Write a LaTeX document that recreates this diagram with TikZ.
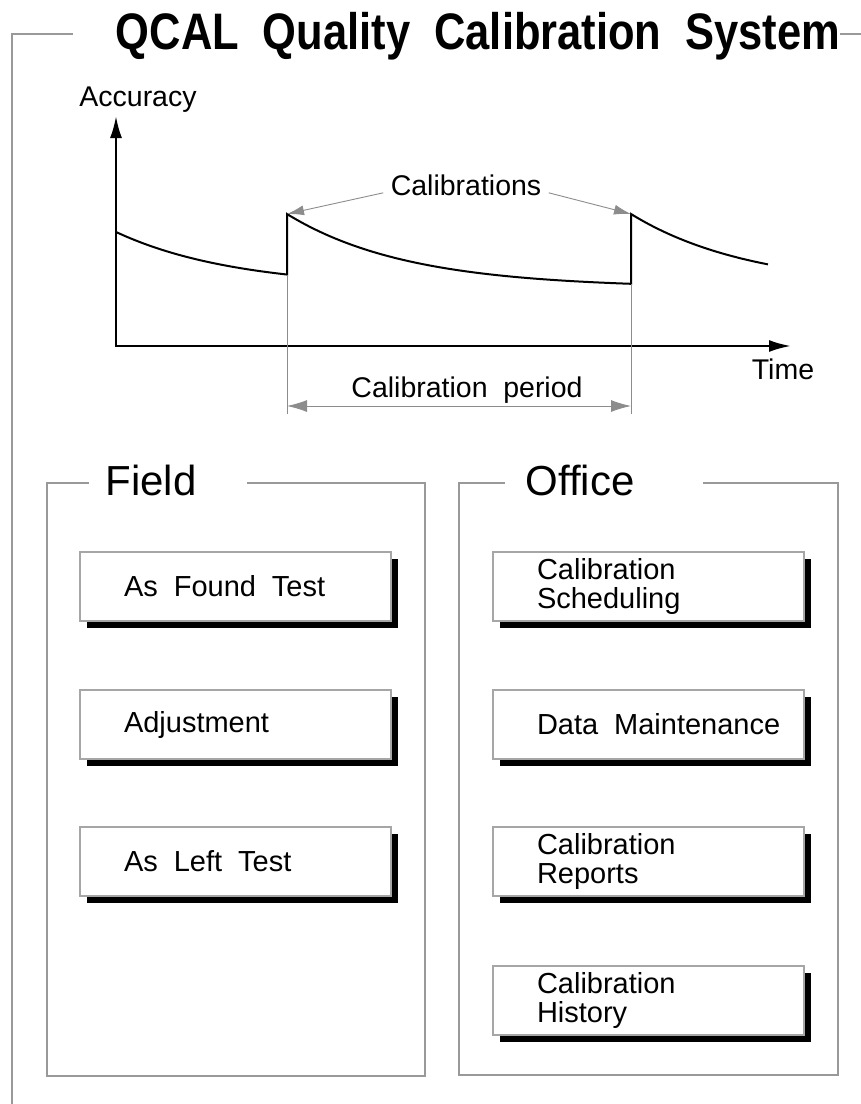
\documentclass[tikz,border=0pt]{standalone}
\usepackage{fontspec}
\setmainfont{Liberation Sans}
\usetikzlibrary{arrows.meta,shadows}
\newcommand{\wsp}{\hspace{0.55em}}
\tikzset{
  frameline/.style={draw=black!40, line width=1.3pt},
  axisline/.style={line width=2.4pt, {Latex[length=22pt,width=12pt]}-{Latex[length=22pt,width=12pt]}},
  decay/.style={line width=2pt},
  guide/.style={draw=black!45, line width=0.9pt},
  pointer/.style={draw=black!45, line width=0.9pt, -{Latex[length=17pt,width=10pt]}},
  dimline/.style={draw=black!45, line width=0.9pt, {Latex[length=20pt,width=12pt]}-{Latex[length=20pt,width=12pt]}},
  lbl/.style={font=\fontsize{28.5}{30}\selectfont},
  head/.style={font=\fontsize{42}{46}\selectfont},
  task/.style={draw=black!35, line width=1.2pt, fill=white, minimum width=311pt, minimum height=69pt,
    text width=223pt, inner xsep=44pt, align=left, font=\fontsize{29}{29.5}\selectfont,
    drop shadow={shadow xshift=7pt, shadow yshift=-7pt, fill=black, opacity=1}}
}
\begin{document}
\begin{tikzpicture}[x=1pt,y=-1pt]
\useasboundingbox (0,0) rectangle (861,1104);
% outer frame and title
\draw[frameline] (73,34) -- (12,34) -- (12,1104);
\draw[frameline] (840,34) -- (861,34);
\node[anchor=base] (title) at (478,49) {\scalebox{1}[1.18]{\fontsize{43.5}{46}\selectfont\bfseries QCAL\wsp Quality\wsp Calibration\wsp System}};

% accuracy graph
\draw[axisline] (116,116) -- (116,346) -- (791,346);
\node[lbl, anchor=base] (accuracy) at (138,106) {Accuracy};
\node[lbl, anchor=base] (time) at (783,379) {Time};
\draw[decay] plot[domain=116:287, samples=60] (\x,{288-74*exp(-(\x-82.6)/120)})
  -- (287,214) -- plot[domain=287:631, samples=100] (\x,{288-74*exp(-(\x-287)/120)})
  -- (631,214) -- plot[domain=631:768, samples=50] (\x,{288-74*exp(-(\x-631)/120)});
\coordinate (c1) at (287,214);
\coordinate (c2) at (631,214);
\draw[guide] (287,275) -- (287,414);
\draw[guide] (631,284) -- (631,414);
\node[lbl, anchor=base] (calib) at (466,195) {Calibrations};
\draw[pointer] ([xshift=-4pt,yshift=-8pt]calib.west) -- (c1);
\draw[pointer] ([xshift=4pt,yshift=-8pt]calib.east) -- (c2);
\node[lbl, anchor=base] (period) at (467,397) {Calibration\wsp period};
\coordinate (pa) at (287,406);
\coordinate (pb) at (631,406);
\draw[dimline] (pa) -- (pb);

% field group
\draw[frameline] (89,483) -- (47,483) -- (47,1076) -- (425,1076) -- (425,483) -- (247,483);
\node[head, anchor=base] (field) at (151,495) {Field};
\node[task] (found) at (235.5,586.5) {\mbox{As\wsp Found\wsp Test}};
\node[task] (adjust) at (235.5,724.5) {Adjustment};
\node[task] (left) at (235.5,861.5) {\mbox{As\wsp Left\wsp Test}};

% office group
\draw[frameline] (505,483) -- (459,483) -- (459,1075) -- (838,1075) -- (838,483) -- (703,483);
\node[head, anchor=base] (office) at (580,495) {Office};
\node[task] (sched) at (648.5,586.5) {Calibration\\Scheduling};
\node[task] (datamaint) at (648.5,724.5) {\mbox{Data\wsp Maintenance}};
\node[task] (reports) at (648.5,861.5) {Calibration\\Reports};
\node[task] (history) at (648.5,1000.5) {Calibration\\History};
\end{tikzpicture}
\end{document}
